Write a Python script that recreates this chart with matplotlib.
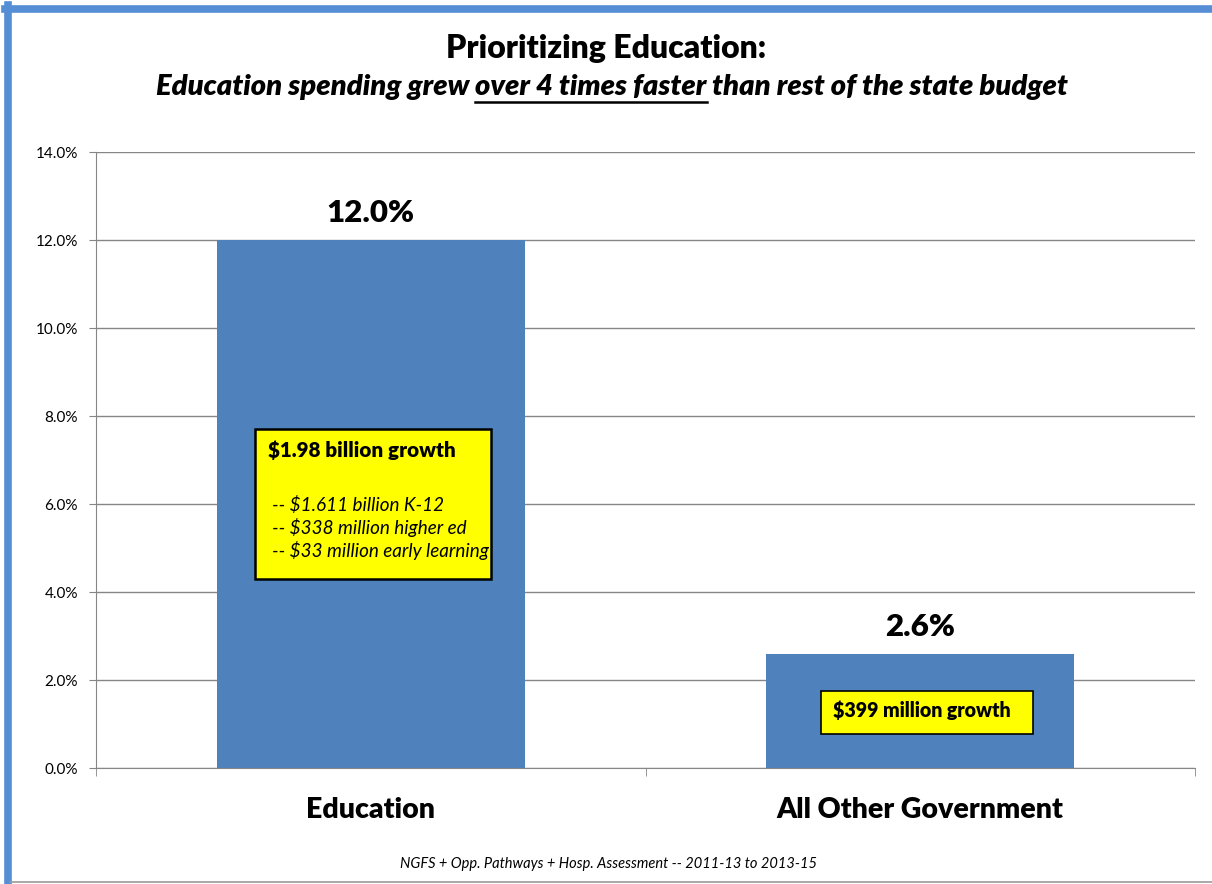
import matplotlib
matplotlib.use("Agg")
import matplotlib.pyplot as plt
from matplotlib.patches import Rectangle
from matplotlib.lines import Line2D

# growth in spending, 2011-13 to 2013-15
categories = ["Education", "All Other Government"]
growth_pct = [12.0, 2.6]
y_ticks = [0, 2, 4, 6, 8, 10, 12, 14]

edu_total = "$1.98 billion growth"
edu_parts = ["-- $1.611 billion K-12",
             "-- $338 million higher ed",
             "-- $33 million early learning"]
other_total = "$399 million growth"

title = "Prioritizing Education:"
sub_parts = ["Education spending grew ", "over 4 times faster",
             " than rest of the state budget"]
footnote = "NGFS + Opp. Pathways + Hosp. Assessment -- 2011-13 to 2013-15"

plt.rcParams['font.family'] = ['Lato', 'DejaVu Sans']

W, H = 1212, 884
BAR = '#4F81BD'
GRID = '#868686'
YELLOW = '#FFFF00'
HEAVY = 'heavy'


def fx(px):
    return px / W


def fy(py):
    return 1 - py / H


fig = plt.figure(figsize=(W / 100, H / 100), dpi=100)
fig.patch.set_facecolor('white')

# frame round the slide
fig.add_artist(Line2D([fx(7.5), fx(7.5)], [fy(5), fy(882)], color='#558ED5', lw=5.5))
fig.add_artist(Line2D([fx(5), fx(W)], [fy(8.5), fy(8.5)], color='#558ED5', lw=5.5))
fig.add_artist(Line2D([fx(10), fx(W)], [fy(882), fy(882)], color='#9a9a9a', lw=1.2))

ax = fig.add_axes([fx(96), fy(768), fx(1195) - fx(96), fy(152) - fy(768)])
x = range(len(categories))
ax.bar(x, growth_pct, width=0.56, color=BAR, zorder=2)
ax.set_xlim(-0.5, 1.5)
ax.set_ylim(0, 14)

ax.set_yticks(y_ticks)
ax.set_yticklabels(['%.1f%%' % v for v in y_ticks], fontsize=11)
ax.yaxis.grid(True, color=GRID, lw=1, zorder=0)
ax.tick_params(axis='y', length=5, color=GRID, pad=8)

ax.set_xticks(list(x))
ax.set_xticklabels(categories, fontsize=20.5, fontweight=HEAVY)
ax.set_xticks([-0.5, 0.5, 1.5], minor=True)
ax.tick_params(axis='x', which='major', length=0, pad=21)
ax.tick_params(axis='x', which='minor', length=6, color=GRID)

for s in ['top', 'right']:
    ax.spines[s].set_visible(False)
for s in ['left', 'bottom']:
    ax.spines[s].set_color(GRID)

for i, v in enumerate(growth_pct):
    ax.annotate('%.1f%%' % v, (i, v), xytext=(0, 13), textcoords='offset points',
                ha='center', va='baseline', fontsize=22.5, fontweight=HEAVY)

# callout boxes
fig.add_artist(Rectangle((fx(255), fy(579)), fx(491) - fx(255), fy(429) - fy(579),
                         facecolor=YELLOW, edgecolor='black', lw=1.8))
fig.text(fx(268), fy(457), edu_total, fontsize=14.9, fontweight=HEAVY, va='baseline')
for k, line in enumerate(edu_parts):
    fig.text(fx(272), fy(511 + 23 * k), line, fontsize=13.6, style='italic', va='baseline')

fig.add_artist(Rectangle((fx(821), fy(734)), fx(1033) - fx(821), fy(691) - fy(734),
                         facecolor=YELLOW, edgecolor='black', lw=1.2))
fig.text(fx(833), fy(717), other_total, fontsize=14.1, fontweight=HEAVY, va='baseline')

# titles
fig.text(fx(606), fy(58), title, fontsize=23, fontweight=HEAVY, ha='center', va='baseline')

fig.canvas.draw()
r = fig.canvas.get_renderer()
sub_kw = dict(fontsize=21, fontweight=HEAVY, style='italic', va='baseline')


def text_w(s):
    t = fig.text(0, 0, '|' + s + '|', **sub_kw)
    bar = fig.text(0, 0, '||', **sub_kw)
    w = t.get_window_extent(r).width - bar.get_window_extent(r).width
    t.remove()
    bar.remove()
    return w


widths = [text_w(s) for s in sub_parts]
left = 612 - sum(widths) / 2
pos = left
for s, w in zip(sub_parts, widths):
    fig.text(fx(pos), fy(95), s, **sub_kw)
    pos += w
u0 = left + widths[0]
u1 = u0 + widths[1]
fig.add_artist(Line2D([fx(u0), fx(u1)], [fy(101.5), fy(101.5)], color='black', lw=1.8))

fig.text(fx(609), fy(868), footnote, fontsize=10.5, style='italic', ha='center', va='baseline')

fig.savefig('out.png', dpi=100)
